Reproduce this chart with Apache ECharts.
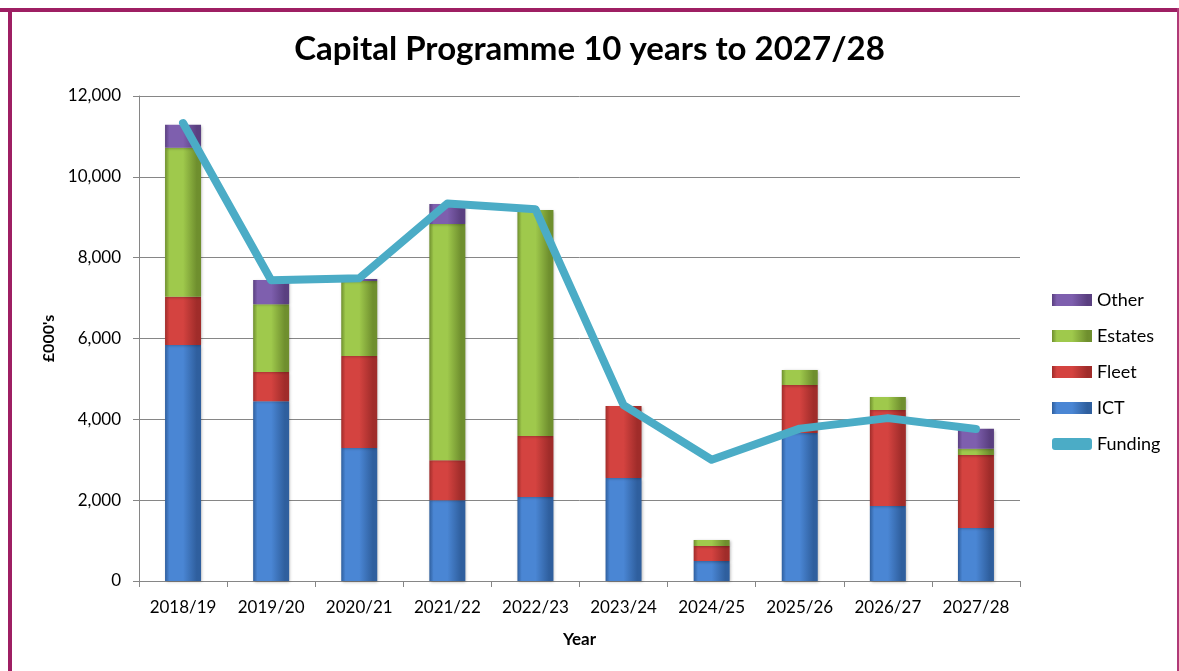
<!DOCTYPE html>
<html>
<head>
<meta charset="utf-8">
<script src="https://cdn.jsdelivr.net/npm/echarts@6/dist/echarts.min.js"></script>
<style>
html,body{margin:0;padding:0;background:#fff;}
#chart{width:1179px;height:671px;}
</style>
</head>
<body>
<div id="chart"></div>
<script>
const categories = ['2018/19','2019/20','2020/21','2021/22','2022/23','2023/24','2024/25','2025/26','2026/27','2027/28'];
const ict     = [5840, 4450, 3290, 2000, 2080, 2550, 495, 3660, 1855, 1310];
const fleet   = [1190, 720, 2280, 990, 1510, 1780, 370, 1190, 2375, 1810];
const estates = [3690, 1680, 1855, 5840, 5590, 0, 150, 370, 320, 150];
const other   = [570, 600, 50, 495, 0, 0, 0, 0, 0, 495];
const funding = [11330, 7440, 7490, 9340, 9200, 4350, 3000, 3770, 4030, 3760];
const yTicks  = [0, 2000, 4000, 6000, 8000, 10000, 12000];

function grad(dark, light) {
  return new echarts.graphic.LinearGradient(0, 0, 1, 0, [
    {offset: 0, color: dark},
    {offset: 0.12, color: light},
    {offset: 0.5, color: light},
    {offset: 0.88, color: dark},
    {offset: 1, color: dark}
  ]);
}
const colors = {
  ICT: ['#2f5f9e', '#4a86d4'],
  Fleet: ['#a02c2a', '#d44340'],
  Estates: ['#6f8f2e', '#9fc94c'],
  Other: ['#5a3f80', '#7e5fae']
};
function barSeries(name, data) {
  return {
    name: name, type: 'bar', stack: 'total', data: data, barWidth: 36,
    itemStyle: {
      color: grad(colors[name][0], colors[name][1]),
      shadowBlur: 3, shadowColor: 'rgba(0,0,0,0.3)', shadowOffsetX: 1, shadowOffsetY: 1
    },
    emphasis: {disabled: true}
  };
}
const chart = echarts.init(document.getElementById('chart'), null, {renderer: 'canvas'});
const font = 'Lato, "Open Sans", sans-serif';
chart.setOption({
  animation: false,
  textStyle: {fontFamily: font},
  title: {
    text: 'Capital Programme 10 years to 2027/28',
    left: 'center', top: 28,
    textStyle: {fontSize: 33, fontWeight: 'bold', color: '#000', fontFamily: font}
  },
  graphic: [
    {type: 'rect', shape: {x: 0, y: 8, width: 1179, height: 4}, style: {fill: '#9e1f63'}, z: 100},
    {type: 'rect', shape: {x: 8, y: 8, width: 4, height: 663}, style: {fill: '#9e1f63'}, z: 100},
    {type: 'rect', shape: {x: 1177, y: 8, width: 2, height: 663}, style: {fill: '#b03a78'}, z: 100}
  ],
  legend: {
    orient: 'vertical', left: 1047, top: 286, itemGap: 18,
    itemWidth: 40, itemHeight: 12,
    textStyle: {fontSize: 18, color: '#000', fontFamily: font},
    data: [
      {name: 'Other', icon: 'rect'},
      {name: 'Estates', icon: 'rect'},
      {name: 'Fleet', icon: 'rect'},
      {name: 'ICT', icon: 'rect'},
      {name: 'Funding', icon: 'roundRect', itemStyle: {color: '#4bacc6'}}
    ]
  },
  grid: {left: 139, right: 159, top: 96, bottom: 90},
  xAxis: {
    type: 'category', data: categories,
    name: 'Year', nameLocation: 'middle', nameGap: 50,
    nameTextStyle: {fontSize: 17, fontWeight: 'bold', color: '#000'},
    axisLine: {lineStyle: {color: '#868686'}},
    axisTick: {show: true, length: 6, lineStyle: {color: '#868686'}},
    axisLabel: {fontSize: 17, color: '#000', margin: 18}
  },
  yAxis: {
    type: 'value', min: yTicks[0], max: yTicks[yTicks.length - 1], interval: 2000,
    name: "£000's", nameLocation: 'middle', nameGap: 82,
    nameTextStyle: {fontSize: 16, fontWeight: 'bold', color: '#000'},
    axisLine: {show: true, lineStyle: {color: '#868686'}},
    axisTick: {show: true, length: 6, lineStyle: {color: '#868686'}},
    axisLabel: {fontSize: 17, color: '#000', margin: 18,
      formatter: v => v.toLocaleString('en-GB')},
    splitLine: {lineStyle: {color: '#868686', width: 1}}
  },
  series: [
    barSeries('ICT', ict),
    barSeries('Fleet', fleet),
    barSeries('Estates', estates),
    barSeries('Other', other),
    {
      name: 'Funding', type: 'line', data: funding, symbol: 'none', z: 10,
      lineStyle: {color: '#4bacc6', width: 8, cap: 'round', join: 'round'},
      itemStyle: {color: '#4bacc6'},
      emphasis: {disabled: true}
    }
  ]
});
</script>
</body>
</html>
